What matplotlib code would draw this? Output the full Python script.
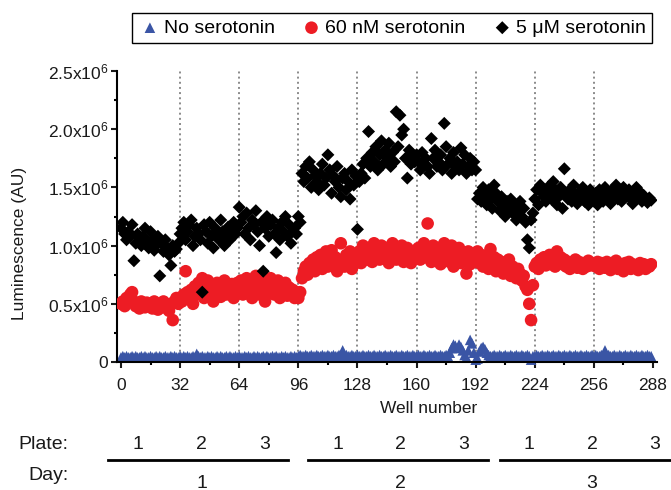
import matplotlib
matplotlib.use('Agg')
import matplotlib.pyplot as plt
import numpy as np
from matplotlib.lines import Line2D

plt.rcParams['font.family'] = ['Liberation Sans', 'DejaVu Sans']
plt.rcParams['mathtext.fontset'] = 'custom'
plt.rcParams['mathtext.rm'] = 'Liberation Sans'
plt.rcParams['mathtext.default'] = 'rm'

# luminescence (x10^6 AU), 96 wells per day = 3 plates of 32
none_day1 = [0.04,0.05,0.04,0.05,0.04,0.04,0.05,0.04,0.05,0.04,0.04,0.05,0.04,0.05,0.04,0.04,
             0.05,0.04,0.04,0.05,0.04,0.05,0.04,0.04,0.05,0.04,0.04,0.05,0.04,0.05,0.04,0.04,
             0.05,0.04,0.05,0.04,0.05,0.04,0.04,0.05,0.04,0.07,0.05,0.04,0.05,0.04,0.04,0.05,
             0.04,0.05,0.04,0.04,0.05,0.04,0.05,0.04,0.04,0.05,0.04,0.05,0.04,0.04,0.05,0.04,
             0.05,0.04,0.04,0.05,0.04,0.05,0.04,0.04,0.05,0.04,0.05,0.04,0.04,0.05,0.04,0.05,
             0.04,0.04,0.05,0.04,0.05,0.04,0.04,0.05,0.04,0.05,0.04,0.04,0.05,0.04,0.05,0.04]
none_day2 = [0.05,0.06,0.05,0.05,0.06,0.05,0.05,0.06,0.05,0.05,0.06,0.05,0.05,0.06,0.05,0.05,
             0.06,0.05,0.05,0.06,0.05,0.05,0.06,0.05,0.10,0.05,0.06,0.05,0.05,0.06,0.05,0.05,
             0.06,0.05,0.05,0.06,0.05,0.05,0.06,0.05,0.05,0.06,0.05,0.05,0.06,0.05,0.05,0.06,
             0.05,0.05,0.06,0.05,0.05,0.06,0.05,0.05,0.06,0.05,0.05,0.06,0.05,0.05,0.06,0.05,
             0.05,0.06,0.05,0.05,0.06,0.05,0.05,0.06,0.05,0.05,0.06,0.05,0.05,0.06,0.05,0.05,
             0.06,0.05,0.08,0.12,0.15,0.14,0.12,0.15,0.13,0.10,0.06,0.04,0.10,0.19,0.16,0.08]
none_day3 = [0.02,0.03,0.09,0.12,0.13,0.11,0.08,0.06,0.05,0.05,0.06,0.05,0.05,0.06,0.05,0.05,
             0.06,0.05,0.05,0.06,0.05,0.05,0.06,0.05,0.05,0.06,0.05,0.05,0.06,0.05,0.02,0.05,
             0.05,0.06,0.05,0.05,0.06,0.05,0.05,0.06,0.05,0.05,0.06,0.05,0.05,0.06,0.05,0.05,
             0.06,0.05,0.05,0.06,0.05,0.05,0.06,0.05,0.05,0.06,0.05,0.05,0.06,0.05,0.05,0.06,
             0.05,0.06,0.05,0.05,0.06,0.05,0.10,0.05,0.06,0.05,0.05,0.06,0.05,0.05,0.06,0.05,
             0.05,0.06,0.05,0.05,0.06,0.05,0.05,0.06,0.05,0.05,0.06,0.05,0.05,0.06,0.05,0.05]

red_day1 = [0.50,0.52,0.48,0.55,0.53,0.58,0.60,0.52,0.48,0.50,0.46,0.52,0.49,0.47,0.51,0.48,
            0.50,0.46,0.52,0.48,0.45,0.50,0.47,0.52,0.49,0.46,0.44,0.50,0.36,0.52,0.55,0.50,
            0.55,0.52,0.58,0.78,0.60,0.55,0.62,0.50,0.65,0.58,0.68,0.60,0.72,0.55,0.63,0.70,
            0.58,0.66,0.52,0.62,0.68,0.60,0.56,0.65,0.70,0.58,0.64,0.60,0.67,0.55,0.62,0.68,
            0.62,0.70,0.58,0.66,0.72,0.60,0.68,0.55,0.65,0.74,0.62,0.58,0.70,0.64,0.52,0.68,
            0.60,0.72,0.66,0.58,0.63,0.70,0.55,0.65,0.60,0.68,0.57,0.64,0.58,0.62,0.55,0.60]
red_day2 = [0.55,0.60,0.72,0.78,0.82,0.75,0.85,0.80,0.88,0.78,0.90,0.84,0.92,0.80,0.86,0.95,
            0.82,0.88,0.96,0.84,0.90,0.78,0.86,1.02,0.88,0.82,0.92,0.86,0.95,0.80,0.90,0.85,
            0.90,0.95,0.85,1.00,0.92,0.88,0.98,0.94,0.86,1.02,0.92,0.96,0.88,1.00,0.94,0.90,
            0.98,0.85,0.95,1.02,0.92,0.88,0.96,0.90,1.00,0.86,0.94,0.98,0.90,0.85,0.95,0.92,
            0.92,0.98,0.88,0.95,1.02,0.90,1.19,0.96,0.86,1.00,0.92,0.88,0.98,0.84,0.94,1.02,
            0.90,0.96,0.86,1.00,0.82,0.94,0.90,0.98,0.85,0.92,0.88,0.76,0.95,0.84,0.90,0.86]
red_day3 = [0.88,0.95,0.85,0.92,0.82,0.90,0.86,0.80,0.97,0.84,0.90,0.78,0.88,0.82,0.86,0.76,
            0.84,0.80,0.88,0.74,0.82,0.78,0.72,0.80,0.76,0.70,0.74,0.65,0.62,0.50,0.36,0.66,
            0.82,0.85,0.80,0.88,0.84,0.90,0.83,0.86,0.92,0.84,0.88,0.82,0.95,0.86,0.90,0.84,
            0.88,0.82,0.86,0.80,0.85,0.83,0.88,0.81,0.86,0.84,0.80,0.85,0.82,0.87,0.83,0.85,
            0.84,0.82,0.86,0.80,0.85,0.83,0.81,0.86,0.84,0.79,0.85,0.82,0.87,0.80,0.84,0.83,
            0.78,0.85,0.82,0.86,0.80,0.84,0.81,0.83,0.79,0.85,0.82,0.84,0.80,0.83,0.82,0.84]

black_day1 = [1.15,1.20,1.10,1.05,1.12,1.08,1.18,0.87,1.02,1.10,1.06,1.00,1.08,1.15,1.04,0.98,
              1.12,1.05,0.96,1.00,1.08,0.74,1.02,0.95,1.05,0.98,0.92,0.83,1.00,0.95,0.97,1.02,
              1.10,1.15,1.20,1.05,1.12,1.18,1.22,1.00,1.08,1.15,1.10,1.05,0.60,1.18,1.12,1.02,
              1.20,1.08,0.98,1.15,1.10,1.05,1.22,1.12,1.00,1.08,1.16,1.05,1.12,1.20,1.10,1.15,
              1.33,1.20,1.25,1.10,1.28,1.15,1.05,1.22,1.18,1.30,1.12,1.00,1.20,0.78,1.15,1.25,
              1.08,1.18,1.22,1.10,0.94,1.15,1.05,1.20,1.12,1.25,1.08,1.18,1.02,1.12,1.15,1.10]
black_day2 = [1.25,1.20,1.62,1.55,1.68,1.58,1.72,1.50,1.65,1.60,1.55,1.48,1.62,1.70,1.52,1.58,
              1.78,1.65,1.45,1.60,1.55,1.68,1.50,1.42,1.58,1.62,1.48,1.55,1.40,1.65,1.52,1.60,
              1.14,1.55,1.62,1.70,1.58,1.75,1.98,1.68,1.80,1.72,1.85,1.65,1.78,1.90,1.70,1.82,
              1.75,1.88,1.68,1.80,1.72,2.15,1.85,2.12,1.95,2.00,1.75,1.58,1.82,1.70,1.78,1.72,
              1.78,1.72,1.65,1.80,1.70,1.75,1.68,1.62,1.92,1.75,1.82,1.68,1.72,1.78,1.65,2.05,
              1.85,1.70,1.75,1.62,1.80,1.68,1.72,1.65,1.84,1.70,1.78,1.62,1.68,1.75,1.65,1.72]
black_day3 = [1.65,1.40,1.45,1.38,1.50,1.42,1.35,1.48,1.40,1.32,1.52,1.45,1.38,1.30,1.42,1.35,
              1.25,1.38,1.30,1.40,1.28,1.35,1.22,1.30,1.38,1.25,1.32,1.20,1.05,0.98,1.22,1.28,
              1.40,1.48,1.35,1.52,1.45,1.42,1.38,1.50,1.45,1.40,1.55,1.48,1.35,1.42,1.50,1.32,
              1.66,1.45,1.40,1.48,1.38,1.52,1.44,1.36,1.46,1.42,1.50,1.38,1.45,1.35,1.48,1.42,
              1.40,1.45,1.35,1.48,1.42,1.38,1.50,1.45,1.40,1.36,1.48,1.44,1.52,1.40,1.46,1.38,
              1.50,1.42,1.45,1.48,1.40,1.36,1.44,1.50,1.42,1.46,1.38,1.43,1.40,1.37,1.41,1.39]

labels = ['No serotonin', '60 nM serotonin', '5 \u03bcM serotonin']
colors = ['#3a55a5', '#ed1c24', '#000000']
plate_labels = ['1', '2', '3'] * 3
day_labels = ['1', '2', '3']

scale = 1e6
none = np.array(none_day1 + none_day2 + none_day3) * scale
red = np.array(red_day1 + red_day2 + red_day3) * scale
black = np.array(black_day1 + black_day2 + black_day3) * scale
wells = np.arange(len(none))

fig = plt.figure(figsize=(6.71, 4.90), dpi=100)
ax = fig.add_axes([0.1748, 0.2612, 0.8039, 0.5939])

for x in range(32, 288, 32):
    ax.axvline(x, color='#8a8a8a', ls=':', lw=1.4, zorder=0)

h1 = ax.scatter(wells, none, marker='^', s=58, color=colors[0], edgecolors='none', zorder=2, clip_on=False)
h2 = ax.scatter(wells, red, marker='o', s=82, color=colors[1], edgecolors='none', zorder=3)
h3 = ax.scatter(wells, black, marker='D', s=44, color=colors[2], edgecolors='none', zorder=4)

ax.set_xlim(-2, 290)
ax.set_ylim(0, 2.5e6)
ax.set_xticks(range(0, 289, 32))
ax.set_xticks(range(16, 289, 32), minor=True)
yt = np.arange(0, 2.51e6, 0.5e6)
ax.set_yticks(yt)
ax.set_yticklabels(['0'] + ['%.1fx10$^6$' % (v / 1e6) for v in yt[1:]])
ax.set_yticks(np.arange(0.25e6, 2.5e6, 0.5e6), minor=True)

for side in ['top', 'right']:
    ax.spines[side].set_visible(False)
for side in ['left', 'bottom']:
    ax.spines[side].set_linewidth(1.5)
ax.tick_params(which='major', length=4.5, width=1.5, labelsize=12.5, colors='#1a1a1a')
ax.tick_params(axis='x', which='major', pad=7)
ax.tick_params(axis='y', which='major', pad=2)
ax.tick_params(which='minor', length=2.5, width=1.5)

fig.text(20 / 671, 1 - 243 / 490, 'Luminescence (AU)', rotation=90, ha='center', va='center',
         fontsize=12.5, color='#1a1a1a')
fig.text(429 / 671, 1 - 408 / 490, 'Well number', ha='center', va='center', fontsize=12.5, color='#1a1a1a')

fig.legend([h1, h2, h3], labels, loc='center', bbox_to_anchor=(392 / 671, 1 - 28 / 490), ncol=3,
           fontsize=14, frameon=True, fancybox=False, edgecolor='black', framealpha=1,
           handletextpad=0.1, columnspacing=1.3, borderpad=0.3, handlelength=1.2, scatterpoints=1)

# plate / day annotation below the axis
fig.text(18 / 671, 1 - 444 / 490, 'Plate:', ha='left', va='center', fontsize=14, color='#1a1a1a')
fig.text(28 / 671, 1 - 475 / 490, 'Day:', ha='left', va='center', fontsize=14, color='#1a1a1a')
plate_x = [138, 201, 265, 338, 400, 464, 529, 592, 655]
for px, lab in zip(plate_x, plate_labels):
    fig.text(px / 671, 1 - 444 / 490, lab, ha='center', va='center', fontsize=14, color='#1a1a1a')
day_spans = [(108, 288), (308, 488), (500, 671)]
day_x = [202, 400, 592]
for (x0, x1), dx, lab in zip(day_spans, day_x, day_labels):
    fig.add_artist(Line2D([x0 / 671, x1 / 671], [1 - 460 / 490] * 2, color='black', lw=2,
                          transform=fig.transFigure))
    fig.text(dx / 671, 1 - 483 / 490, lab, ha='center', va='center', fontsize=14, color='#1a1a1a')

fig.savefig('out.png', dpi=100)
